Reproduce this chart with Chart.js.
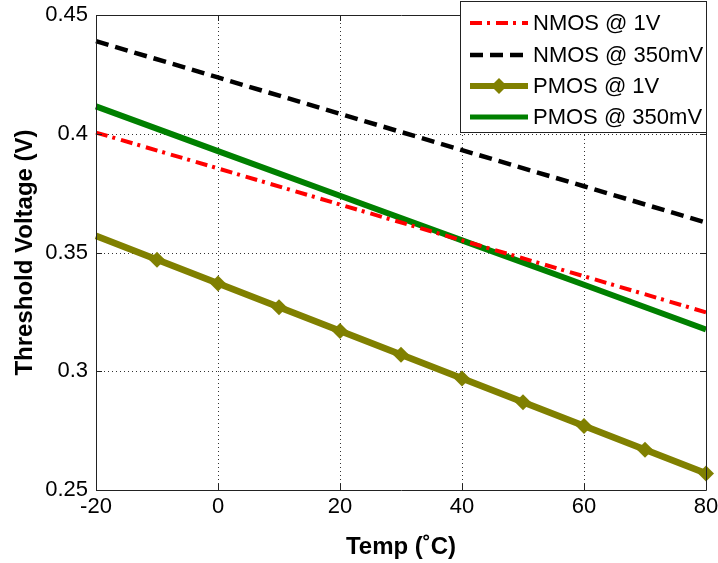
<!DOCTYPE html>
<html>
<head>
<meta charset="utf-8">
<script src="https://cdn.jsdelivr.net/npm/chart.js@4/dist/chart.umd.min.js"></script>
<style>
  html, body { margin: 0; padding: 0; background: #fff; }
  #wrap { width: 718px; height: 563px; position: relative; }
</style>
</head>
<body>
<div id="wrap"><canvas id="c"></canvas></div>
<script>
// ---- data ----
const temps10 = [-20, -10, 0, 10, 20, 30, 40, 50, 60, 70, 80];
const temps20 = [-20, 0, 20, 40, 60, 80];
const nmos1V   = [0.4005, 0.3854, 0.3702, 0.3551, 0.3400, 0.3248];
const nmos350  = [0.4390, 0.4237, 0.4084, 0.3931, 0.3779, 0.3626];
const pmos1V   = [0.3570, 0.3470, 0.3370, 0.3270, 0.3170, 0.3070, 0.2970, 0.2870, 0.2770, 0.2670, 0.2570];
const pmos350  = [0.4115, 0.3927, 0.3739, 0.3551, 0.3364, 0.3176];
const seriesLabels = ['NMOS @ 1V', 'NMOS @ 350mV', 'PMOS @ 1V', 'PMOS @ 350mV'];
const xTicks = [-20, 0, 20, 40, 60, 80];
const yTicks = [0.25, 0.3, 0.35, 0.4, 0.45];
const yTickLabels = ['0.25', '0.3', '0.35', '0.4', '0.45'];
const xTitle = 'Temp (\u02DAC)';
const yTitle = 'Threshold Voltage (V)';

const pts = (xs, ys) => xs.map((x, i) => ({x: x, y: ys[i]}));
const FONT = "'Liberation Sans', Arial, Helvetica, sans-serif";

const boxPlugin = {
  id: 'box',
  beforeDatasetsDraw(chart) {
    // dotted grid lines from the scales
    const {ctx, chartArea: a, scales} = chart;
    ctx.save();
    ctx.strokeStyle = '#333';
    ctx.lineWidth = 1;
    ctx.setLineDash([1, 3]);
    ctx.beginPath();
    xTicks.forEach(v => {
      const px = Math.round(scales.x.getPixelForValue(v)) + 0.5;
      ctx.moveTo(px, a.top); ctx.lineTo(px, a.bottom);
    });
    yTicks.forEach(v => {
      const py = Math.round(scales.y.getPixelForValue(v)) + 0.5;
      ctx.moveTo(a.left, py); ctx.lineTo(a.right, py);
    });
    ctx.stroke();
    ctx.restore();
  },
  afterDatasetsDraw(chart) {
    const {ctx, chartArea: a, scales} = chart;
    ctx.save();
    ctx.strokeStyle = '#222';
    ctx.lineWidth = 1;
    ctx.beginPath();
    ctx.rect(Math.round(a.left) + 0.5, Math.round(a.top) + 0.5,
             Math.round(a.right - a.left), Math.round(a.bottom - a.top));
    ctx.stroke();
    const tl = 6;
    ctx.beginPath();
    xTicks.forEach(v => {
      const px = Math.round(scales.x.getPixelForValue(v)) + 0.5;
      ctx.moveTo(px, a.bottom); ctx.lineTo(px, a.bottom - tl);
      ctx.moveTo(px, a.top); ctx.lineTo(px, a.top + tl);
    });
    yTicks.forEach(v => {
      const py = Math.round(scales.y.getPixelForValue(v)) + 0.5;
      ctx.moveTo(a.left, py); ctx.lineTo(a.left + tl, py);
      ctx.moveTo(a.right, py); ctx.lineTo(a.right - tl, py);
    });
    ctx.stroke();
    ctx.restore();
  },
  afterDraw(chart) {
    // legend box
    const {ctx} = chart;
    const bx = 460.5, by = 1.5, bw = 246, bh = 131;
    ctx.save();
    ctx.fillStyle = '#fff';
    ctx.fillRect(bx, by, bw, bh);
    ctx.strokeStyle = '#222';
    ctx.lineWidth = 1;
    ctx.strokeRect(bx, by, bw, bh);
    const rows = [23, 55, 86, 117];
    chart.data.datasets.forEach((ds, i) => {
      const y = rows[i];
      ctx.save();
      ctx.strokeStyle = ds.borderColor;
      ctx.lineWidth = ds.legendWidth;
      ctx.setLineDash(ds.borderDash || []);
      ctx.beginPath();
      ctx.moveTo(470, y); ctx.lineTo(528, y);
      ctx.stroke();
      ctx.restore();
      if (ds.legendMarker) {
        ctx.save();
        ctx.fillStyle = ds.borderColor;
        ctx.beginPath();
        const cx = 499, r = 8;
        ctx.moveTo(cx, y - r); ctx.lineTo(cx + r, y); ctx.lineTo(cx, y + r); ctx.lineTo(cx - r, y);
        ctx.closePath(); ctx.fill();
        ctx.restore();
      }
      ctx.fillStyle = '#000';
      ctx.font = '22px ' + FONT;
      ctx.textBaseline = 'middle';
      ctx.textAlign = 'left';
      ctx.fillText(ds.label, 533, y + 1);
    });
    ctx.restore();
  }
};

new Chart(document.getElementById('c'), {
  type: 'line',
  data: {
    datasets: [
      { label: seriesLabels[0], data: pts(temps20, nmos1V), borderColor: '#ff0000',
        borderWidth: 4, borderDash: [12, 5, 3, 6], pointRadius: 0, legendWidth: 4, clip: false },
      { label: seriesLabels[1], data: pts(temps20, nmos350), borderColor: '#000000',
        borderWidth: 4.5, borderDash: [13, 7], pointRadius: 0, legendWidth: 4.5, clip: false },
      { label: seriesLabels[2], data: pts(temps10, pmos1V), borderColor: '#808000',
        backgroundColor: '#808000', borderWidth: 6.5, pointStyle: 'rectRot',
        pointRadius: temps10.map((t, i) => i === 0 ? 0 : 8), pointBorderWidth: 0,
        pointBackgroundColor: '#808000', legendWidth: 6, legendMarker: true, clip: false },
      { label: seriesLabels[3], data: pts(temps20, pmos350), borderColor: '#008000',
        borderWidth: 6, pointRadius: 0, legendWidth: 5, clip: false }
    ]
  },
  options: {
    responsive: true,
    maintainAspectRatio: false,
    animation: false,
    events: [],
    layout: { autoPadding: false, padding: { left: 0, right: 12, top: 15, bottom: 0 } },
    plugins: { legend: { display: false }, tooltip: { enabled: false } },
    elements: { line: { tension: 0, borderCapStyle: 'butt' } },
    scales: {
      x: {
        type: 'linear', min: -20, max: 80,
        afterBuildTicks: s => { s.ticks = xTicks.map(v => ({value: v})); },
        afterFit: s => { s.height = 73; s.paddingLeft = 0; s.paddingRight = 0; },
        ticks: { color: '#000', font: { family: FONT, size: 22 }, padding: 4, maxRotation: 0,
                 callback: v => String(v) },
        grid: { display: false, drawTicks: false },
        border: { display: false },
        title: { display: true, text: xTitle, color: '#000',
                 font: { family: FONT, size: 24, weight: 'bold' }, padding: { top: 0, bottom: 1 } }
      },
      y: {
        type: 'linear', min: 0.25, max: 0.45,
        afterBuildTicks: s => { s.ticks = yTicks.map(v => ({value: v})); },
        afterFit: s => { s.width = 96; s.paddingTop = 0; s.paddingBottom = 0; },
        ticks: { color: '#000', font: { family: FONT, size: 22 }, padding: 8,
                 callback: (v) => yTickLabels[yTicks.findIndex(t => Math.abs(t - v) < 1e-9)] },
        grid: { display: false, drawTicks: false },
        border: { display: false },
        title: { display: true, text: yTitle, color: '#000',
                 font: { family: FONT, size: 24, weight: 'bold' }, padding: { top: 11, bottom: 0 } }
      }
    }
  },
  plugins: [boxPlugin]
});
</script>
</body>
</html>
